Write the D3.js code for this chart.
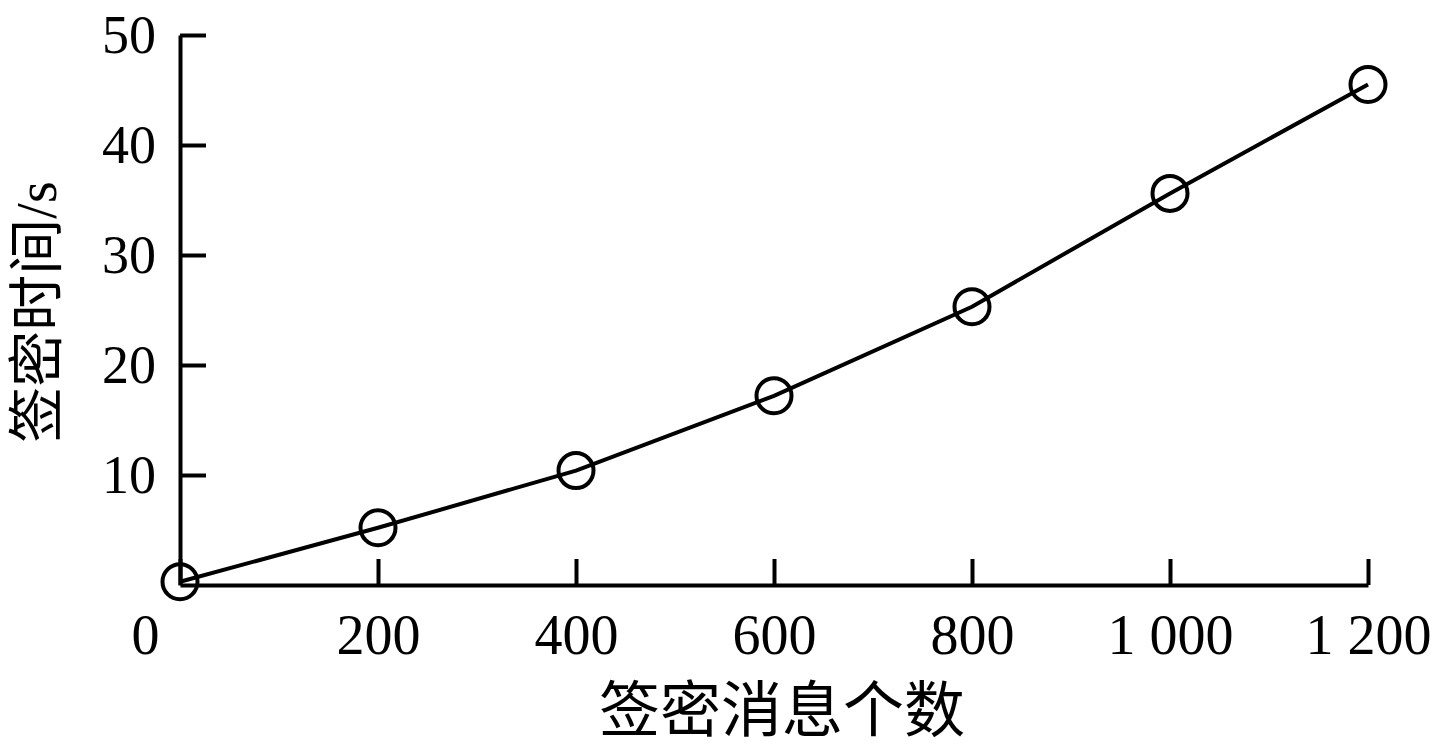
<!DOCTYPE html>
<html>
<head>
<meta charset="utf-8">
<script src="https://cdn.jsdelivr.net/npm/d3@7"></script>
<style>
  html, body { margin: 0; padding: 0; background: #fff; }
  svg { display: block; }
</style>
</head>
<body>
<svg id="chart" width="1444" height="750"></svg>
<script>
// ---- data ----
const messageCounts = [0, 200, 400, 600, 800, 1000, 1200];
const signcryptTimes = [0.3, 5.2, 10.4, 17.2, 25.3, 35.6, 45.5];
const xTickValues = [0, 200, 400, 600, 800, 1000, 1200];
const xTickLabels = ["0", "200", "400", "600", "800", "1 000", "1 200"];
const yTickValues = [10, 20, 30, 40, 50];
const yTickLabels = ["10", "20", "30", "40", "50"];
const xTitle = "签密消息个数";
const yTitle = "签密时间/s";

// ---- layout ----
const svg = d3.select("#chart");
const x = d3.scaleLinear().domain([0, 1200]).range([180, 1368]);
const y = d3.scaleLinear().domain([0, 50]).range([585, 35]);
const serif = "'Liberation Serif', 'DejaVu Serif', serif";
const cjk = "'Liberation Serif', 'Noto Sans CJK SC', sans-serif";

// x axis
const xAxis = d3.axisBottom(x)
  .tickValues(xTickValues)
  .tickFormat((d, i) => xTickLabels[i])
  .tickSizeInner(-26)
  .tickSizeOuter(0)
  .tickPadding(29);
const gx = svg.append("g").attr("transform", "translate(0,585)").call(xAxis);
gx.selectAll("path, line").attr("stroke", "#000").attr("stroke-width", 4);
gx.selectAll("text").attr("fill", "#000")
  .style("font-family", serif).style("font-size", "56px");
gx.selectAll(".tick").filter(d => d === 0).select("text").attr("x", -35);

// y axis
const yAxis = d3.axisLeft(y)
  .tickValues(yTickValues)
  .tickFormat((d, i) => yTickLabels[i])
  .tickSizeInner(-26)
  .tickSizeOuter(0)
  .tickPadding(24);
const gy = svg.append("g").attr("transform", "translate(180,0)").call(yAxis);
gy.selectAll("path, line").attr("stroke", "#000").attr("stroke-width", 4);
gy.selectAll("text").attr("fill", "#000")
  .style("font-family", serif).style("font-size", "54px");

// line
const pts = messageCounts.map((d, i) => [d, signcryptTimes[i]]);
svg.append("path")
  .datum(pts)
  .attr("fill", "none")
  .attr("stroke", "#000")
  .attr("stroke-width", 4)
  .attr("d", d3.line().x(d => x(d[0])).y(d => y(d[1])));

// markers
svg.append("g").selectAll("circle")
  .data(pts)
  .join("circle")
  .attr("cx", d => x(d[0]))
  .attr("cy", d => y(d[1]))
  .attr("r", 17.5)
  .attr("fill", "none")
  .attr("stroke", "#000")
  .attr("stroke-width", 4);

// titles
svg.append("text")
  .attr("x", 782).attr("y", 732)
  .attr("text-anchor", "middle")
  .style("font-family", cjk).style("font-size", "61px")
  .attr("fill", "#000")
  .text(xTitle);

svg.append("text")
  .attr("transform", "translate(56,312) rotate(-90)")
  .attr("text-anchor", "middle")
  .style("font-family", cjk).style("font-size", "56px")
  .attr("fill", "#000")
  .text(yTitle);
</script>
</body>
</html>
